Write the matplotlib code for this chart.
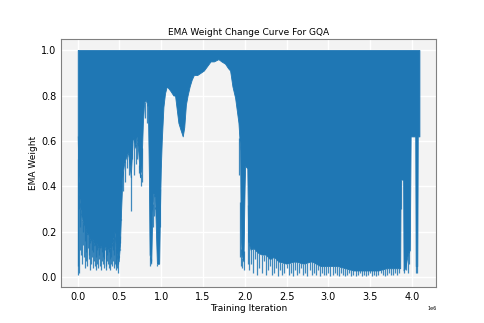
import numpy as np
import matplotlib
matplotlib.use("Agg")
import matplotlib.pyplot as plt

# lower edge of the dense band (iterations in millions, EMA weight)
body_iter_m = [0.000, 0.006, 0.015, 0.030, 0.050, 0.070, 0.090, 0.110, 0.130, 0.150,
               0.175, 0.200, 0.225, 0.250, 0.275, 0.300, 0.325, 0.350, 0.375, 0.400,
               0.420, 0.440, 0.455, 0.470, 0.490, 0.505, 0.520, 0.535, 0.555, 0.580,
               0.600, 0.620, 0.635, 0.650, 0.660, 0.675, 0.690, 0.705, 0.725, 0.745,
               0.762, 0.780, 0.795, 0.815, 0.840, 0.852, 0.860, 0.880, 0.892, 0.905,
               0.925, 0.938, 0.948, 0.975, 0.985, 0.995, 1.006, 1.026, 1.045, 1.066,
               1.090, 1.110, 1.145, 1.165, 1.185, 1.205, 1.230, 1.257, 1.275, 1.295,
               1.315, 1.340, 1.365, 1.390, 1.430, 1.470, 1.510, 1.550, 1.590, 1.630,
               1.684, 1.720, 1.764, 1.800, 1.824, 1.852, 1.884, 1.924, 1.944, 1.950,
               1.960, 1.984, 1.998, 2.004, 2.030, 2.040, 2.070, 2.100, 2.150, 2.200,
               2.250, 2.300, 2.350, 2.400, 2.500, 2.600, 2.700, 2.800, 2.900, 3.000,
               3.100, 3.200, 3.300, 3.400, 3.500, 3.600, 3.700, 3.800, 3.860, 3.865,
               3.895, 3.900, 3.920, 3.950, 3.975, 3.985, 4.040, 4.045, 4.065, 4.070,
               4.090]
body_low = [0.62, 0.50, 0.38, 0.31, 0.26, 0.23, 0.22, 0.19, 0.19, 0.16,
            0.17, 0.14, 0.15, 0.13, 0.14, 0.12, 0.14, 0.12, 0.13, 0.13,
            0.16, 0.20, 0.14, 0.09, 0.07, 0.14, 0.30, 0.44, 0.50, 0.53,
            0.55, 0.50, 0.44, 0.55, 0.62, 0.60, 0.57, 0.62, 0.55, 0.44,
            0.48, 0.68, 0.77, 0.78, 0.75, 0.45, 0.10, 0.06, 0.28, 0.37,
            0.35, 0.18, 0.06, 0.06, 0.30, 0.48, 0.60, 0.75, 0.81, 0.84,
            0.83, 0.82, 0.80, 0.80, 0.74, 0.68, 0.65, 0.62, 0.66, 0.76,
            0.80, 0.84, 0.87, 0.89, 0.89, 0.90, 0.91, 0.93, 0.95, 0.95,
            0.96, 0.95, 0.94, 0.92, 0.91, 0.84, 0.79, 0.68, 0.56, 0.22,
            0.10, 0.07, 0.40, 0.49, 0.48, 0.16, 0.12, 0.13, 0.11, 0.10,
            0.10, 0.08, 0.09, 0.07, 0.06, 0.07, 0.06, 0.07, 0.05, 0.05,
            0.05, 0.04, 0.03, 0.03, 0.03, 0.03, 0.04, 0.04, 0.04, 0.43,
            0.43, 0.03, 0.04, 0.10, 0.12, 0.62, 0.62, 0.05, 0.05, 0.62,
            0.62]
body_high = 1.0

# single dips that reach below the band
spike_iter_m = [
    # early phase
    0.000, 0.005, 0.012, 0.019, 0.026, 0.033, 0.040, 0.047, 0.054, 0.061,
    0.068, 0.075, 0.082, 0.089, 0.096, 0.103, 0.110, 0.117, 0.124, 0.131,
    0.138, 0.145, 0.152, 0.159, 0.166, 0.173, 0.180, 0.187, 0.194, 0.201,
    0.208, 0.215, 0.222, 0.229, 0.236, 0.243, 0.250, 0.257, 0.264, 0.271,
    0.278, 0.285, 0.292, 0.299, 0.306, 0.313, 0.320, 0.327, 0.334, 0.341,
    0.348, 0.355, 0.362, 0.369, 0.376, 0.383, 0.390, 0.397, 0.404, 0.411,
    0.418, 0.425, 0.432, 0.439, 0.446, 0.453, 0.460, 0.467, 0.474, 0.481,
    0.488, 0.495, 0.502, 0.509, 0.516,
    # 0.5M - 1.0M
    0.545, 0.565, 0.590, 0.610, 0.632, 0.655, 0.668, 0.695, 0.712, 0.735,
    0.752, 0.770, 0.800, 0.830, 0.866, 0.874, 0.898, 0.912, 0.928, 0.955,
    0.965, 0.990,
    # around 2.0M
    1.935, 1.948, 1.958, 1.972, 1.986, 2.035,
    # late phase
    2.050, 2.075, 2.100, 2.125, 2.150, 2.175, 2.200, 2.225, 2.250, 2.275,
    2.300, 2.325, 2.350, 2.375, 2.400, 2.425, 2.450, 2.475, 2.500, 2.525,
    2.550, 2.575, 2.600, 2.625, 2.650, 2.675, 2.700, 2.725, 2.750, 2.775,
    2.800, 2.825, 2.850, 2.875, 2.900, 2.925, 2.950, 2.975, 3.000, 3.025,
    3.050, 3.075, 3.100, 3.125, 3.150, 3.175, 3.200, 3.225, 3.250, 3.275,
    3.300, 3.325, 3.350, 3.375, 3.400, 3.425, 3.450, 3.475, 3.500, 3.525,
    3.550, 3.575, 3.600, 3.625, 3.650, 3.675, 3.700, 3.725, 3.750, 3.775,
    3.800, 3.825, 3.850,
    # end
    3.872, 3.910, 3.935, 3.955, 3.970, 4.050, 4.060]
spike_low = [
    0.01, 0.05, 0.02, 0.30, 0.12, 0.22, 0.10, 0.28, 0.06, 0.14,
    0.20, 0.09, 0.04, 0.16, 0.11, 0.07, 0.19, 0.05, 0.13, 0.08,
    0.10, 0.03, 0.15, 0.06, 0.12, 0.09, 0.04, 0.11, 0.07, 0.14,
    0.05, 0.03, 0.09, 0.12, 0.06, 0.04, 0.10, 0.08, 0.13, 0.05,
    0.03, 0.07, 0.11, 0.06, 0.09, 0.04, 0.08, 0.12, 0.05, 0.03,
    0.07, 0.10, 0.06, 0.04, 0.11, 0.08, 0.03, 0.06, 0.09, 0.05,
    0.12, 0.07, 0.04, 0.10, 0.06, 0.03, 0.05, 0.08, 0.04, 0.02,
    0.06, 0.09, 0.12, 0.15, 0.25,
    0.38, 0.42, 0.48, 0.45, 0.29, 0.52, 0.45, 0.50, 0.52, 0.46,
    0.40, 0.42, 0.70, 0.68, 0.05, 0.08, 0.22, 0.27, 0.30, 0.05,
    0.08, 0.22,
    0.45, 0.09, 0.05, 0.04, 0.03, 0.06,
    0.03, 0.06, 0.02, 0.08, 0.01, 0.04, 0.02, 0.07, 0.01, 0.03,
    0.05, 0.01, 0.02, 0.04, 0.005, 0.03, 0.01, 0.02, 0.04, 0.01,
    0.02, 0.005, 0.03, 0.01, 0.02, 0.04, 0.01, 0.02, 0.005, 0.03,
    0.01, 0.02, 0.01, 0.03, 0.005, 0.02, 0.01, 0.01, 0.02, 0.005,
    0.01, 0.02, 0.01, 0.005, 0.02, 0.01, 0.005, 0.01, 0.02, 0.005,
    0.01, 0.005, 0.01, 0.02, 0.005, 0.01, 0.005, 0.01, 0.02, 0.005,
    0.01, 0.005, 0.01, 0.02, 0.01, 0.005, 0.01, 0.02, 0.01, 0.01,
    0.02, 0.01, 0.02,
    0.30, 0.02, 0.03, 0.02, 0.06, 0.02, 0.02]

BLUE = "#1f77b4"

body_x = np.array(body_iter_m) * 1e6
spike_x = np.array(spike_iter_m) * 1e6
spike_top = np.interp(spike_x, body_x, body_low)

fig, ax = plt.subplots(figsize=(4.85, 3.23), dpi=100)
ax.set_facecolor("#f3f3f3")

ax.fill_between(body_x, body_low, body_high, color=BLUE, lw=0.6, edgecolor=BLUE)
ax.vlines(spike_x, spike_low, spike_top, color=BLUE, lw=0.9, alpha=0.85)

ax.grid(True, color="white", lw=1)
ax.set_axisbelow(True)
for s in ax.spines.values():
    s.set_color("#808080")

ax.set_title("EMA Weight Change Curve For GQA", fontsize=6.5, pad=3)
ax.set_xlabel("Training Iteration", fontsize=6.5, labelpad=2)
ax.set_ylabel("EMA Weight", fontsize=6.5, labelpad=2)
ax.tick_params(labelsize=7, length=0, pad=3)
ax.xaxis.get_offset_text().set_fontsize(3.5)

ax.margins(x=0.05, y=0.05)

fig.savefig("out.png", dpi=100)
